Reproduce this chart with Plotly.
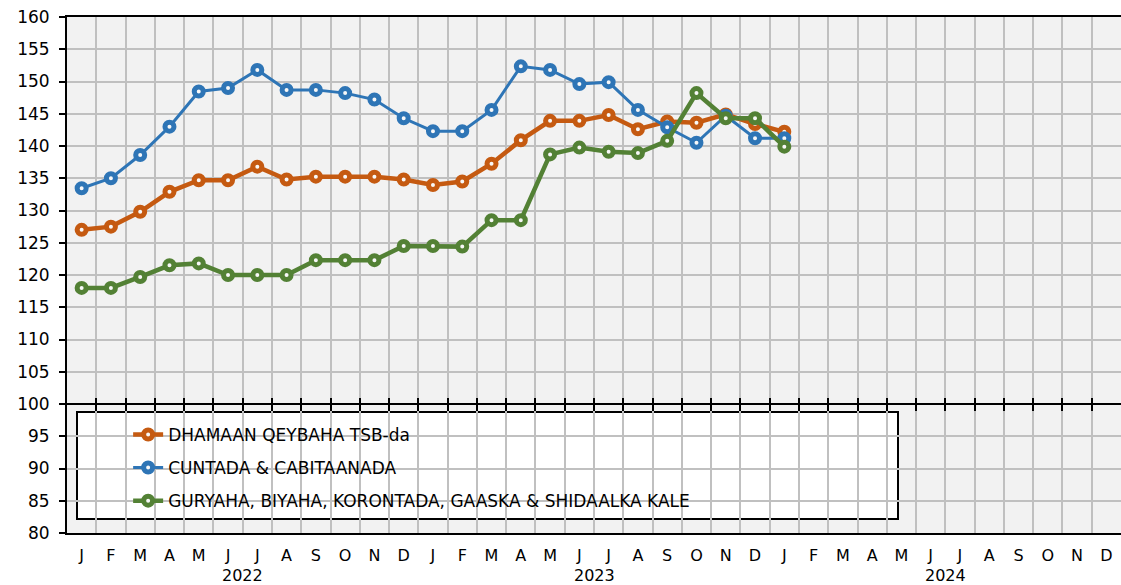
import plotly.graph_objects as go

months = ["J", "F", "M", "A", "M", "J", "J", "A", "S", "O", "N", "D"] * 3
years = ["2022", "2023", "2024"]

series_names = [
    "DHAMAAN QEYBAHA TSB-da",
    "CUNTADA & CABITAANADA",
    "GURYAHA, BIYAHA, KORONTADA, GAASKA & SHIDAALKA KALE",
]

dhamaan = [127.0, 127.5, 129.8, 132.9, 134.7, 134.7, 136.8, 134.8, 135.25, 135.25, 135.25, 134.8,
           133.95, 134.5, 137.25, 140.9, 143.9, 143.9, 144.8, 142.6, 143.8, 143.6, 144.9, 143.4,
           142.2]
cuntada = [133.45, 135.0, 138.6, 143.0, 148.45, 149.0, 151.8, 148.7, 148.7, 148.2, 147.2, 144.3,
           142.3, 142.3, 145.6, 152.35, 151.8, 149.6, 149.9, 145.6, 142.9, 140.5, 144.7, 141.2,
           141.2]
guryaha = [118.0, 118.0, 119.7, 121.5, 121.8, 120.0, 120.0, 120.0, 122.3, 122.3, 122.3, 124.5,
           124.5, 124.4, 128.5, 128.5, 138.7, 139.75, 139.1, 138.9, 140.8, 148.2, 144.3, 144.3,
           139.9]

colors = ["#C55A11", "#2E75B6", "#538135"]
line_widths = [4.5, 3, 4.5]
values = [dhamaan, cuntada, guryaha]

FONT = "DejaVu Sans"
FS = 17
FSX = 16

fig = go.Figure()
for name, vals, col, lw in zip(series_names, values, colors, line_widths):
    fig.add_trace(go.Scatter(
        x=list(range(len(vals))), y=vals, name=name, mode="lines+markers",
        line=dict(color=col, width=lw),
        marker=dict(symbol="circle", size=9, color="#f8f8f8", line=dict(color=col, width=5)),
        legendgroup=name, xaxis="x", yaxis="y",
    ))

# dummy traces to register overlay axes
for ax in ["x2", "x3", "x4"]:
    fig.add_trace(go.Scatter(x=[], y=[], xaxis=ax, yaxis="y", showlegend=False, hoverinfo="skip"))

n = len(months)
boundaries = [k - 0.5 for k in range(1, n)]
xr = [-0.5, n - 0.5]
grid_col = "#c0c0c0"

fig.update_layout(
    width=1121, height=585, autosize=False,
    margin=dict(l=67, r=0, t=17, b=52),
    paper_bgcolor="white", plot_bgcolor="#f2f2f2",
    font=dict(family=FONT, size=FS, color="black"),
    xaxis=dict(range=xr, tickvals=boundaries, showticklabels=False, ticks="",
               showgrid=True, gridcolor=grid_col, gridwidth=2, zeroline=False,
               showline=True, mirror=True, linecolor="black", linewidth=2),
    xaxis2=dict(overlaying="x", matches="x", anchor="free", position=0.25, side="bottom",
                tickvals=boundaries, showticklabels=False, ticks="outside", ticklen=6,
                tickwidth=2, tickcolor="black", showgrid=False, zeroline=False,
                showline=True, linecolor="black", linewidth=2),
    xaxis3=dict(overlaying="x", matches="x", anchor="free", position=0.25, side="bottom",
                tickvals=boundaries, showticklabels=False, ticks="inside", ticklen=6,
                tickwidth=2, tickcolor="black", showgrid=False, zeroline=False,
                showline=False),
    xaxis4=dict(overlaying="x", matches="x", anchor="y", side="bottom",
                tickvals=list(range(n)), ticktext=months, ticks="", showgrid=False,
                zeroline=False, showline=False, ticklabelstandoff=11,
                tickfont=dict(family=FONT, size=FSX)),
    yaxis=dict(range=[80, 160], dtick=5, tick0=80, showgrid=True, gridcolor=grid_col,
               gridwidth=1.5, zeroline=False, showline=True, linecolor="black", linewidth=2,
               ticks="outside", ticklen=6, tickwidth=2, tickcolor="black",
               ticklabelstandoff=6, tickfont=dict(family=FONT, size=FS)),
    legend=dict(x=0.058, y=0.225, xanchor="left", yanchor="top", bgcolor="rgba(0,0,0,0)",
                borderwidth=0, tracegroupgap=8, font=dict(family=FONT, size=FS),
                itemwidth=30),
    showlegend=True,
)

# legend frame
fig.add_shape(type="rect", xref="x domain", yref="y domain",
              x0=(77 - 67) / 1054, x1=(898 - 67) / 1054,
              y0=(533 - 519) / 516, y1=(533 - 412) / 516,
              line=dict(color="black", width=2), fillcolor="white", layer="below")

for i, yr in enumerate(years):
    fig.add_annotation(x=12 * i + 5.5, xref="x", y=-0.0814, yref="paper", text=yr,
                       showarrow=False, yanchor="middle", xanchor="center",
                       font=dict(family=FONT, size=FSX))

fig.write_html("out.html", config={"displayModeBar": False},
               post_script="document.body.style.margin='0';")
